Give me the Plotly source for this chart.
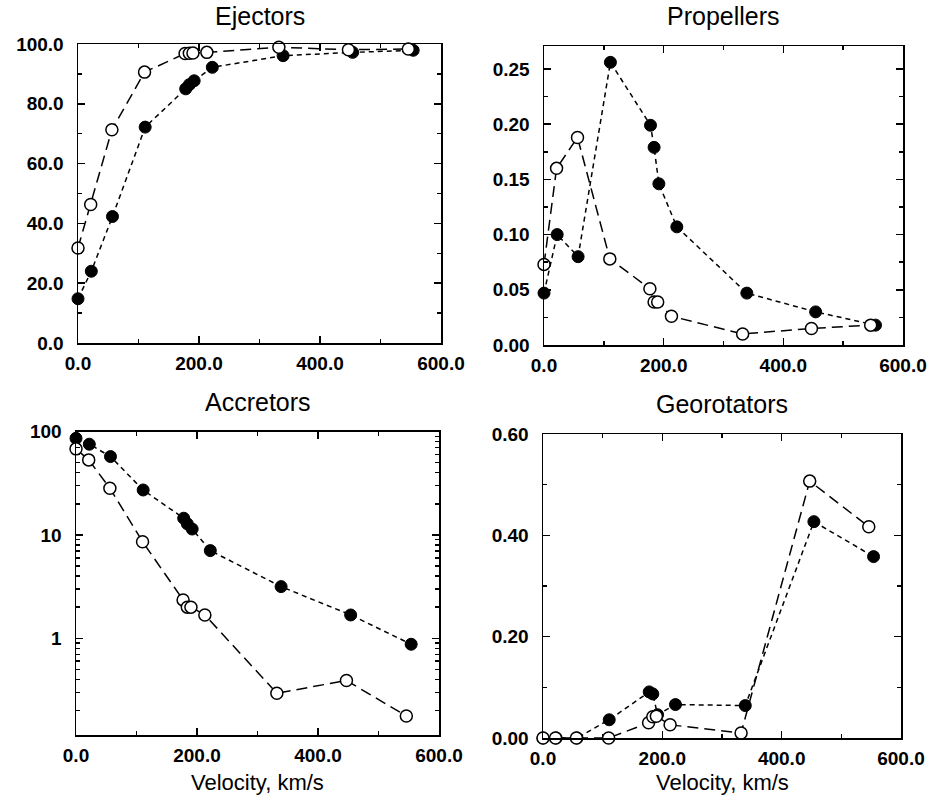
import plotly.graph_objects as go

# ---------------- data ----------------
# velocities, km/s
V_FILLED = [0, 22, 57, 111, 178, 184, 192, 222, 339, 454, 554]
V_OPEN = [0, 21, 56, 110, 177, 184, 190, 213, 332, 447, 546]

EJECTORS_FILLED = [14.8, 24.0, 42.3, 72.2, 85.0, 86.4, 87.7, 92.2, 96.1, 97.2, 97.9]
EJECTORS_OPEN = [31.8, 46.3, 71.3, 90.6, 96.8, 96.9, 97.0, 97.2, 98.9, 98.1, 98.3]

PROPELLERS_FILLED = [0.047, 0.100, 0.080, 0.256, 0.199, 0.179, 0.146, 0.107, 0.047, 0.030, 0.018]
PROPELLERS_OPEN = [0.073, 0.160, 0.188, 0.078, 0.051, 0.039, 0.039, 0.026, 0.010, 0.015, 0.018]

ACCRETORS_FILLED = [86.0, 75.4, 57.3, 27.2, 14.5, 12.8, 11.4, 7.05, 3.16, 1.68, 0.875]
ACCRETORS_OPEN = [68.0, 53.2, 28.3, 8.6, 2.35, 2.0, 2.0, 1.68, 0.294, 0.39, 0.177]

GEOROTATORS_FILLED = [0.0, 0.0, 0.0, 0.036, 0.091, 0.087, 0.046, 0.066, 0.064, 0.427, 0.358]
GEOROTATORS_OPEN = [0.0, 0.0, 0.0, 0.0, 0.030, 0.042, 0.043, 0.026, 0.010, 0.507, 0.417]

PANEL_TITLES = ["Ejectors", "Propellers", "Accretors", "Georotators"]
X_LABEL = "Velocity, km/s"
X_TICKS = [0, 200, 400, 600]
X_TICK_TEXT = ["0.0", "200.0", "400.0", "600.0"]

EJ_TICKS = [0, 20, 40, 60, 80, 100]
EJ_TICK_TEXT = ["0.0", "20.0", "40.0", "60.0", "80.0", "100.0"]
PR_TICKS = [0, 0.05, 0.10, 0.15, 0.20, 0.25]
PR_TICK_TEXT = ["0.00", "0.05", "0.10", "0.15", "0.20", "0.25"]
AC_TICKS = [1, 10, 100]
AC_TICK_TEXT = ["1", "10", "100"]
GE_TICKS = [0, 0.2, 0.4, 0.6]
GE_TICK_TEXT = ["0.00", "0.20", "0.40", "0.60"]

# ---------------- layout geometry (pixels) ----------------
W, H = 932, 802
FONT = "Liberation Sans, Arial, Helvetica, sans-serif"

# (x0, x1, ytop, ybottom) in pixels
BOXES = [
    (78, 441, 44, 343),
    (544, 903, 46, 345),
    (76, 439, 431.5, 735),
    (543, 901, 434, 738),
]


def xdom(b):
    return [b[0] / W, b[1] / W]


def ydom(b):
    return [1 - b[3] / H, 1 - b[2] / H]


fig = go.Figure()

series = [
    (EJECTORS_FILLED, EJECTORS_OPEN),
    (PROPELLERS_FILLED, PROPELLERS_OPEN),
    (ACCRETORS_FILLED, ACCRETORS_OPEN),
    (GEOROTATORS_FILLED, GEOROTATORS_OPEN),
]

for i, (filled, opened) in enumerate(series):
    xa = "x" if i == 0 else f"x{i + 1}"
    ya = "y" if i == 0 else f"y{i + 1}"
    fig.add_trace(go.Scatter(
        x=V_FILLED, y=filled, xaxis=xa, yaxis=ya, mode="lines+markers",
        line=dict(color="black", width=1.5, dash="5px,4px"),
        marker=dict(symbol="circle", size=12, color="black",
                    line=dict(color="black", width=1)),
        cliponaxis=False, showlegend=False, hoverinfo="skip",
    ))
    fig.add_trace(go.Scatter(
        x=V_OPEN, y=opened, xaxis=xa, yaxis=ya, mode="lines+markers",
        line=dict(color="black", width=1.5, dash="11px,6px"),
        marker=dict(symbol="circle", size=12, color="white",
                    line=dict(color="black", width=1.5)),
        cliponaxis=False, showlegend=False, hoverinfo="skip",
    ))

axis_common = dict(
    showline=True, linecolor="black", linewidth=1.5, mirror="ticks",
    ticks="inside", ticklen=7, tickwidth=1.5, tickcolor="black",
    showgrid=False, zeroline=False, automargin=False, fixedrange=True,
    tickfont=dict(family=FONT, size=19, color="black", weight="bold"),
)

layout = dict(
    width=W, height=H, margin=dict(l=0, r=0, t=0, b=0, autoexpand=False),
    paper_bgcolor="white", plot_bgcolor="white",
    font=dict(family=FONT, color="black"),
)

y_specs = [
    dict(range=[0, 100], tickvals=EJ_TICKS, ticktext=EJ_TICK_TEXT,
         minor=dict(tickvals=[10, 30, 50, 70, 90])),
    dict(range=[0, 0.2708], tickvals=PR_TICKS, ticktext=PR_TICK_TEXT,
         minor=dict(tickvals=[0.025, 0.075, 0.125, 0.175, 0.225])),
    dict(type="log", range=[-0.936, 2.0005], tickvals=AC_TICKS, ticktext=AC_TICK_TEXT,
         minor=dict(tickvals=[0.2, 0.3, 0.4, 0.5, 0.6, 0.7, 0.8, 0.9,
                              2, 3, 4, 5, 6, 7, 8, 9,
                              20, 30, 40, 50, 60, 70, 80, 90])),
    dict(range=[0, 0.6], tickvals=GE_TICKS, ticktext=GE_TICK_TEXT,
         minor=dict(tickvals=[0.1, 0.3, 0.5])),
]

for i, b in enumerate(BOXES):
    xkey = "xaxis" if i == 0 else f"xaxis{i + 1}"
    ykey = "yaxis" if i == 0 else f"yaxis{i + 1}"
    yname = "y" if i == 0 else f"y{i + 1}"
    xname = "x" if i == 0 else f"x{i + 1}"
    xa = dict(axis_common, domain=xdom(b), range=[0, 600], anchor=yname,
              tickvals=X_TICKS, ticktext=X_TICK_TEXT, ticklabelstandoff=3,
              minor=dict(tickvals=[100, 300, 500], ticks="inside", ticklen=4,
                         tickwidth=1.5, tickcolor="black"))
    ys = dict(y_specs[i])
    mn = ys.pop("minor")
    ya = dict(axis_common, domain=ydom(b), anchor=xname, ticklabelstandoff=9,
              minor=dict(mn, ticks="inside", ticklen=4, tickwidth=1.5, tickcolor="black"),
              **ys)
    layout[xkey] = xa
    layout[ykey] = ya

annotations = []
title_y = [16, 16, 402, 404]
for i, b in enumerate(BOXES):
    annotations.append(dict(
        text=PANEL_TITLES[i], xref="paper", yref="paper",
        x=(b[0] + b[1]) / 2 / W, y=1 - title_y[i] / H,
        xanchor="center", yanchor="middle", showarrow=False,
        font=dict(family=FONT, size=25, color="black"),
    ))
for b in BOXES[2:]:
    annotations.append(dict(
        text=X_LABEL, xref="paper", yref="paper",
        x=(b[0] + b[1]) / 2 / W, y=1 - 782 / H,
        xanchor="center", yanchor="middle", showarrow=False,
        font=dict(family=FONT, size=22, color="black"),
    ))
layout["annotations"] = annotations

fig.update_layout(**layout)
fig.write_html(
    "out.html",
    config={"displayModeBar": False, "staticPlot": True},
    post_script="document.body.style.margin='0';document.body.style.overflow='hidden';",
)
